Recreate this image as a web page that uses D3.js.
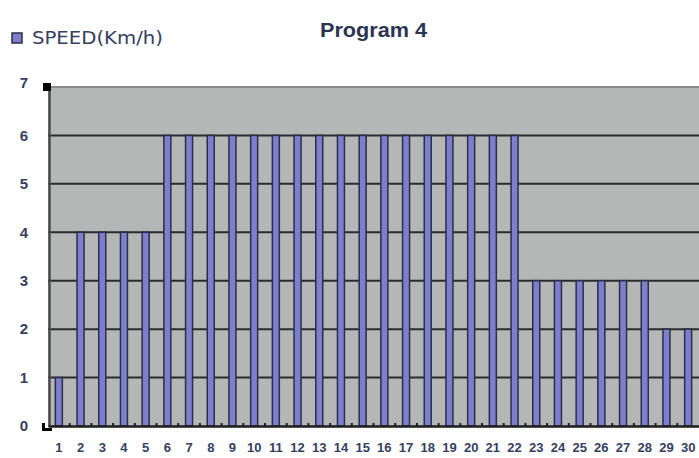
<!DOCTYPE html>
<html>
<head>
<meta charset="utf-8">
<script src="https://cdn.jsdelivr.net/npm/d3@7"></script>
<style>
  html, body { margin: 0; padding: 0; background: #ffffff; }
  svg { display: block; }
</style>
</head>
<body>
<svg id="chart" width="699" height="458"></svg>
<script>
// Program 4: speed (km/h) for each of the 30 program segments
const segments = d3.range(1, 31);
const speeds = [1, 4, 4, 4, 4, 6, 6, 6, 6, 6, 6, 6, 6, 6, 6, 6, 6, 6, 6, 6, 6, 6, 3, 3, 3, 3, 3, 3, 2, 2];
const yTicks = [0, 1, 2, 3, 4, 5, 6, 7];
const chartTitle = "Program 4";
const seriesName = "SPEED(Km/h)";

const svg = d3.select("#chart");
const margin = { left: 48, right: 0, top: 87, bottom: 32 };
const W = 699, H = 458;

const x = d3.scaleBand()
  .domain(segments)
  .range([margin.left, W - margin.right])
  .paddingInner(0).paddingOuter(0);

const y = d3.scaleLinear()
  .domain([0, 7])
  .range([H - margin.bottom, margin.top]);

const textColor = "#34405e";

// plot area background
svg.append("rect")
  .attr("x", x.range()[0])
  .attr("y", y(7))
  .attr("width", x.range()[1] - x.range()[0])
  .attr("height", y(0) - y(7))
  .attr("fill", "#b5b7b7");

// horizontal gridlines
svg.append("g")
  .selectAll("line")
  .data(yTicks.filter(d => d > 0))
  .join("line")
  .attr("x1", x.range()[0])
  .attr("x2", x.range()[1])
  .attr("y1", d => y(d))
  .attr("y2", d => y(d))
  .attr("stroke", d => d === 7 ? "#8a8c8c" : "#2a2c2c")
  .attr("stroke-width", 2);

// bars
const barW = 7;
svg.append("g")
  .selectAll("rect")
  .data(speeds)
  .join("rect")
  .attr("x", (d, i) => x(segments[i]) + x.bandwidth() / 2 - barW / 2)
  .attr("y", d => y(d))
  .attr("width", barW)
  .attr("height", d => y(0) - y(d))
  .attr("fill", "#7c7fcc")
  .attr("stroke", "#2c2d48")
  .attr("stroke-width", 1.5);

// axes
const yAxis = d3.axisLeft(y).tickValues(yTicks).tickSize(0).tickPadding(21).tickFormat(d3.format("d"));
const gy = svg.append("g")
  .attr("transform", `translate(${x.range()[0] + 1},0)`)
  .call(yAxis);
gy.select(".domain").attr("stroke", "#4a4c4c").attr("stroke-width", 2.5);
gy.selectAll("text")
  .attr("fill", textColor)
  .attr("font-family", "Liberation Sans, Arial, sans-serif")
  .attr("font-size", 15)
  .attr("font-weight", "bold");
gy.selectAll(".tick").filter(d => d === 7).select("text").attr("dy", "0.05em");

const xAxis = d3.axisBottom(x).tickSize(0).tickPadding(17);
const gx = svg.append("g")
  .attr("transform", `translate(0,${y(0)})`)
  .call(xAxis);
gx.select(".domain").attr("stroke", "#1e1e1e").attr("stroke-width", 2.5);
gx.selectAll("text")
  .attr("fill", textColor)
  .attr("font-family", "Liberation Sans Narrow, Arial Narrow, sans-serif")
  .attr("font-size", 13)
  .attr("font-weight", "bold");

// small tick marks between categories along the bottom axis
svg.append("g")
  .selectAll("line")
  .data(segments.slice(1))
  .join("line")
  .attr("x1", d => x(d))
  .attr("x2", d => x(d))
  .attr("y1", y(0))
  .attr("y2", y(0) - 3)
  .attr("stroke", "#1e1e1e")
  .attr("stroke-width", 2);

// corner handles on the value axis
svg.append("rect").attr("x", x.range()[0] - 5).attr("y", y(7) - 4).attr("width", 8).attr("height", 8).attr("fill", "#000");
svg.append("path")
  .attr("d", `M${x.range()[0] - 6},${y(0) - 3} h3 v5 h7 v3 h-10 z`)
  .attr("fill", "#000");

// title
svg.append("text")
  .attr("x", 373.5)
  .attr("y", 37)
  .attr("text-anchor", "middle")
  .attr("fill", "#2c3550")
  .attr("font-family", "Liberation Sans, Arial, sans-serif")
  .attr("font-size", 21)
  .attr("font-weight", "bold")
  .attr("textLength", 107)
  .attr("lengthAdjust", "spacingAndGlyphs")
  .text(chartTitle);

// legend
const lg = svg.append("g").attr("transform", "translate(12,33)");
lg.append("rect")
  .attr("x", 0).attr("y", 0).attr("width", 10).attr("height", 10)
  .attr("fill", "#7c7fcc").attr("stroke", "#2c2d48").attr("stroke-width", 1.5);
lg.append("text")
  .attr("x", 20).attr("y", 10.5)
  .attr("fill", textColor)
  .attr("font-family", "DejaVu Sans, Verdana, sans-serif")
  .attr("font-size", 17)
  .attr("textLength", 131)
  .attr("lengthAdjust", "spacingAndGlyphs")
  .text(seriesName);
</script>
</body>
</html>
